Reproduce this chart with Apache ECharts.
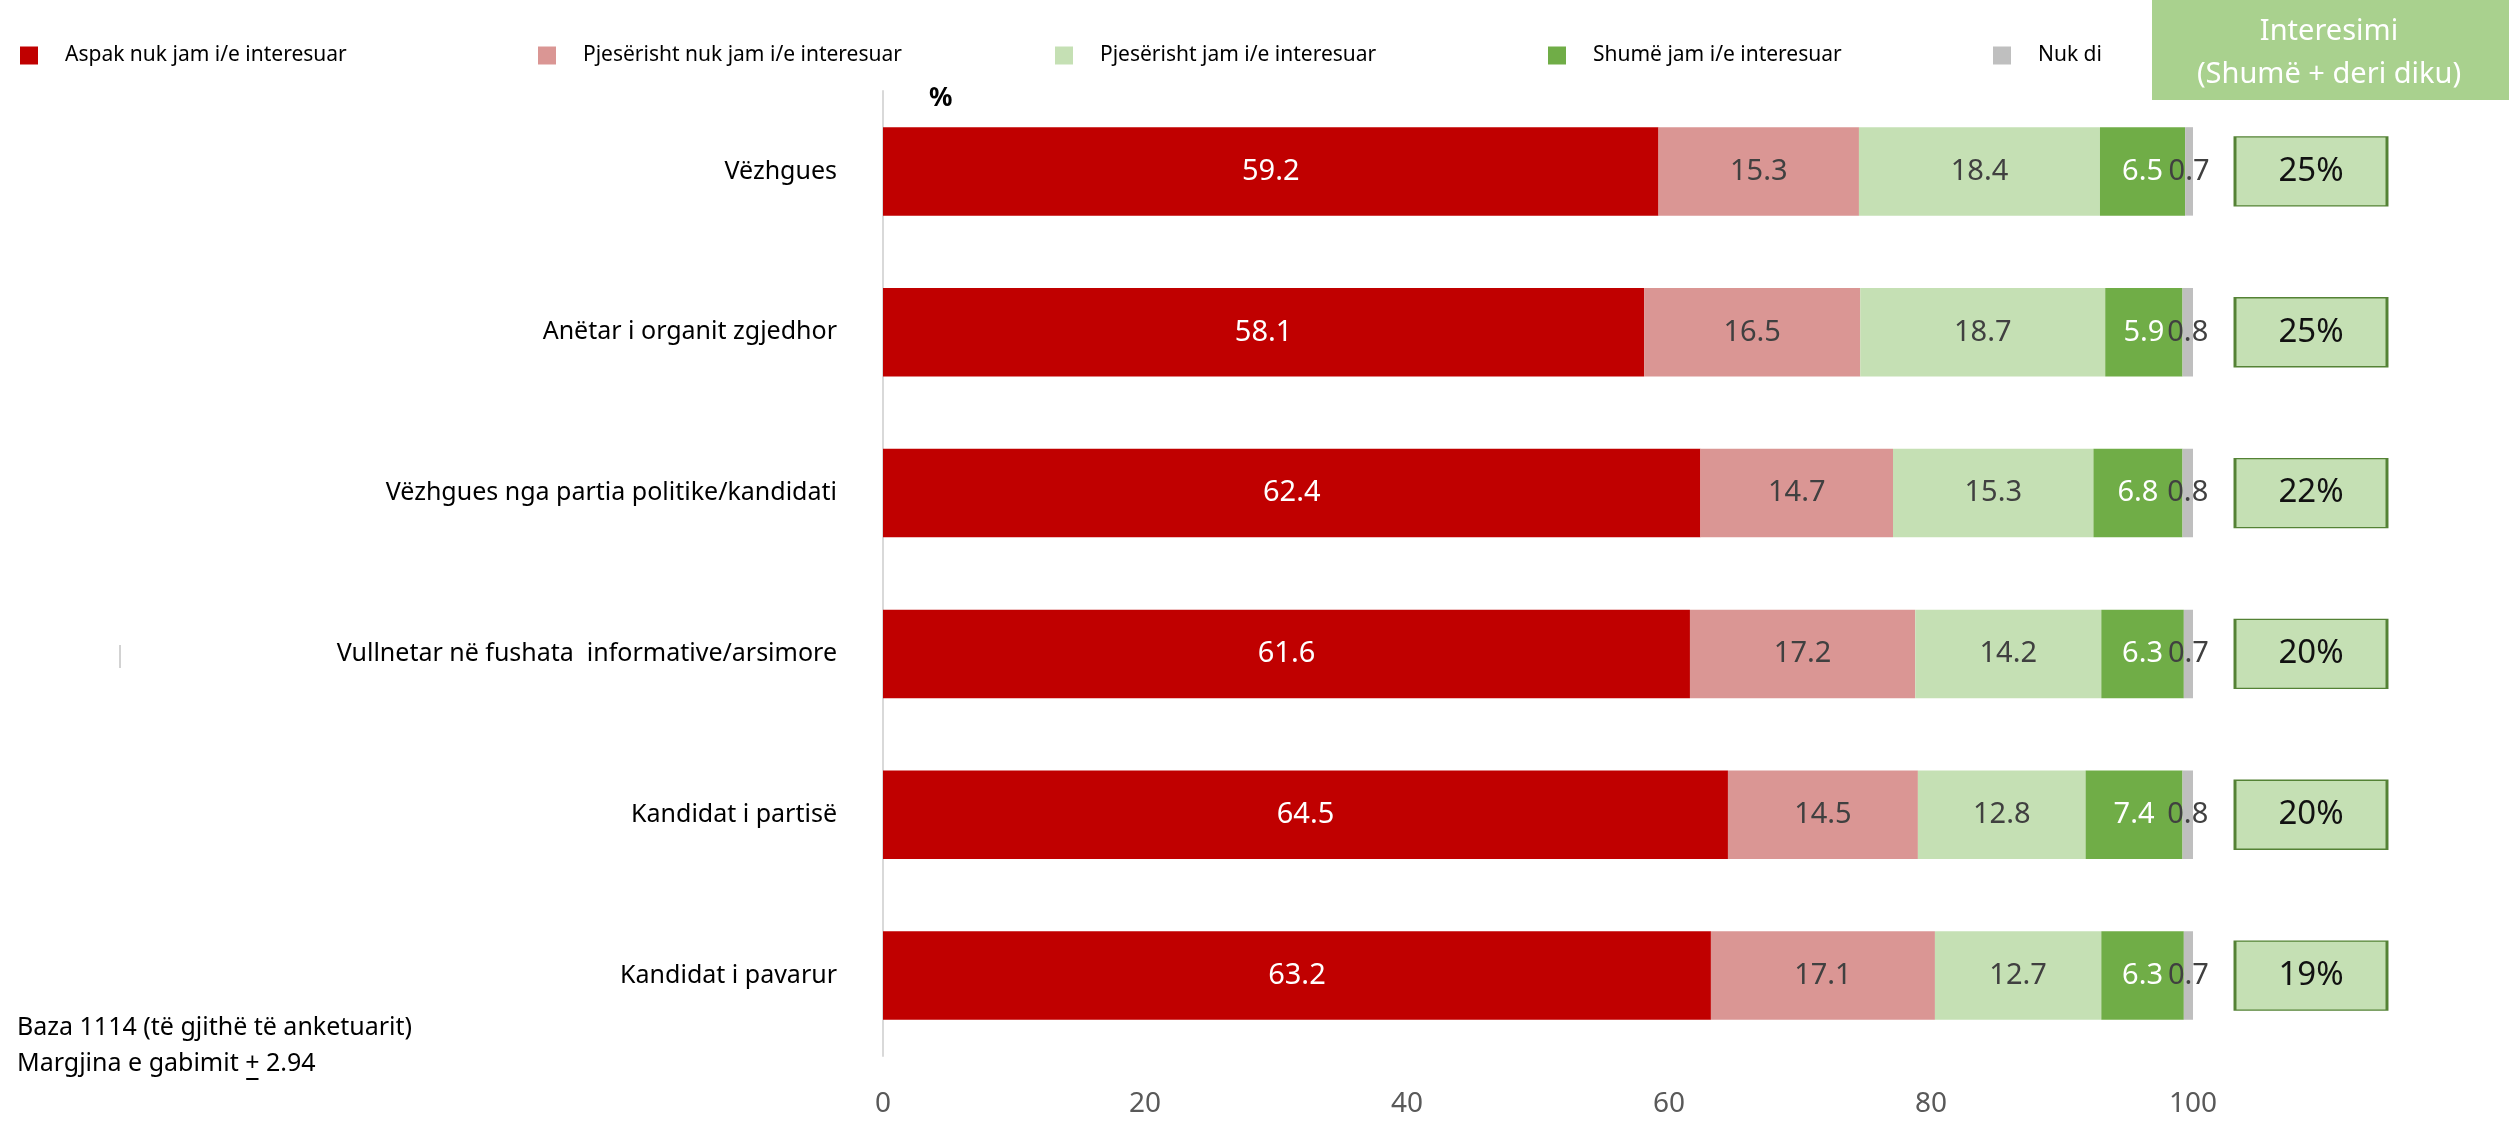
<!DOCTYPE html>
<html><head><meta charset="utf-8">
<script src="https://cdn.jsdelivr.net/npm/echarts@6/dist/echarts.min.js"></script>
<style>html,body{margin:0;padding:0;background:#fff}#c{width:2509px;height:1124px}</style>
</head><body><div id="c"></div>
<script>
const categories = ["Vëzhgues","Anëtar i organit zgjedhor","Vëzhgues nga partia politike/kandidati","Vullnetar në fushata  informative/arsimore","Kandidat i partisë","Kandidat i pavarur"];
const seriesNames = ["Aspak nuk jam i/e interesuar","Pjesërisht nuk jam i/e interesuar","Pjesërisht jam i/e interesuar","Shumë jam i/e interesuar","Nuk di"];
const aspak = [59.2,58.1,62.4,61.6,64.5,63.2];
const pjeseNuk = [15.3,16.5,14.7,17.2,14.5,17.1];
const pjeseJam = [18.4,18.7,15.3,14.2,12.8,12.7];
const shume = [6.5,5.9,6.8,6.3,7.4,6.3];
const nukDi = [0.7,0.8,0.8,0.7,0.8,0.7];
const interesimi = [25,25,22,20,20,19];
const xTicks = [0,20,40,60,80,100];

const FONT = "Noto Sans";
const colors = ["#C00000","#DA9694","#C5E0B4","#70AD47","#BFBFBF"];
const labelColors = ["#ffffff","#404040","#404040","#ffffff","#404040"];
const values = [aspak,pjeseNuk,pjeseJam,shume,nukDi];
const legendLeft = [15,533,1050,1543,1988];

// measure position of the underlined "+" in the footnote
const ctx = document.createElement('canvas').getContext('2d');
ctx.font = '25px "Noto Sans"';
const noteX = 17;
const plusStart = noteX + ctx.measureText('Margjina e gabimit ').width;
const plusW = ctx.measureText('+').width;

const chart = echarts.init(document.getElementById('c'));
const series = values.map((v,i)=>({
  name: seriesNames[i], type:'bar', stack:'total', data:v, barWidth:'55%',
  xAxisIndex:0, yAxisIndex:0,
  itemStyle:{color:colors[i]},
  label:{show:true, position:'inside', color:labelColors[i], fontFamily:FONT, fontSize:29,
    formatter:p=>p.value.toFixed(1)}
}));
series.push({
  type:'scatter', xAxisIndex:1, yAxisIndex:1, symbol:'rect', symbolSize:[152,69],
  data: categories.map((c,i)=>['Interesimi', c, interesimi[i]]),
  encode:{x:0,y:1},
  itemStyle:{color:'#C5E0B4', borderColor:'#548235', borderWidth:2, opacity:1},
  label:{show:true, position:'inside', color:'#111', fontFamily:FONT, fontSize:33,
    formatter:p=>p.value[2]+'%'},
  silent:true
});

chart.setOption({
  animation:false,
  textStyle:{fontFamily:FONT},
  legend: seriesNames.map((n,i)=>({
    data:[n], left:legendLeft[i], top:40, itemWidth:18, itemHeight:18, icon:'rect',
    textStyle:{fontFamily:FONT, fontSize:21, color:'#000', padding:[0,0,0,22]}
  })),
  grid:[
    {left:883, right:316, top:91, bottom:68},
    {left:2235, width:152, top:91, bottom:68}
  ],
  xAxis:[
    {type:'value', min:xTicks[0], max:xTicks[xTicks.length-1], interval:20,
     axisLine:{show:false}, axisTick:{show:false}, splitLine:{show:false},
     axisLabel:{fontFamily:FONT, fontSize:28, color:'#595959', margin:34}},
    {type:'category', gridIndex:1, data:['Interesimi'], show:false}
  ],
  yAxis:[
    {type:'category', data:categories, inverse:true,
     axisLine:{show:true, lineStyle:{color:'#D9D9D9', width:2}}, axisTick:{show:false},
     axisLabel:{fontFamily:FONT, fontSize:25, color:'#000', margin:46}},
    {type:'category', gridIndex:1, data:categories, inverse:true, show:false}
  ],
  graphic:[
    {type:'rect', left:2152, top:0, shape:{width:357, height:100}, style:{fill:'#A9D18E'}},
    {type:'text', x:2329, y:32, style:{text:'Interesimi', fill:'#fff', font:'29px "Noto Sans"', textAlign:'center', textVerticalAlign:'middle'}},
    {type:'text', x:2329, y:75, style:{text:'(Shumë + deri diku)', fill:'#fff', font:'29px "Noto Sans"', textAlign:'center', textVerticalAlign:'middle'}},
    {type:'text', x:929, y:99, style:{text:'%', fill:'#000', font:'bold 26px "Noto Sans"', textAlign:'left', textVerticalAlign:'middle'}},
    {type:'text', x:noteX, y:1028, style:{text:'Baza 1114 (të gjithë të anketuarit)', fill:'#000', font:'25px "Noto Sans"', textVerticalAlign:'middle'}},
    {type:'text', x:noteX, y:1064, style:{text:'Margjina e gabimit + 2.94', fill:'#000', font:'25px "Noto Sans"', textVerticalAlign:'middle'}},
    {type:'line', shape:{x1:plusStart+1, y1:1079, x2:plusStart+plusW-1, y2:1079}, style:{stroke:'#000', lineWidth:2}},
    {type:'line', shape:{x1:120, y1:645, x2:120, y2:668}, style:{stroke:'#A6A6A6', lineWidth:1}}
  ],
  series
});
</script></body></html>
